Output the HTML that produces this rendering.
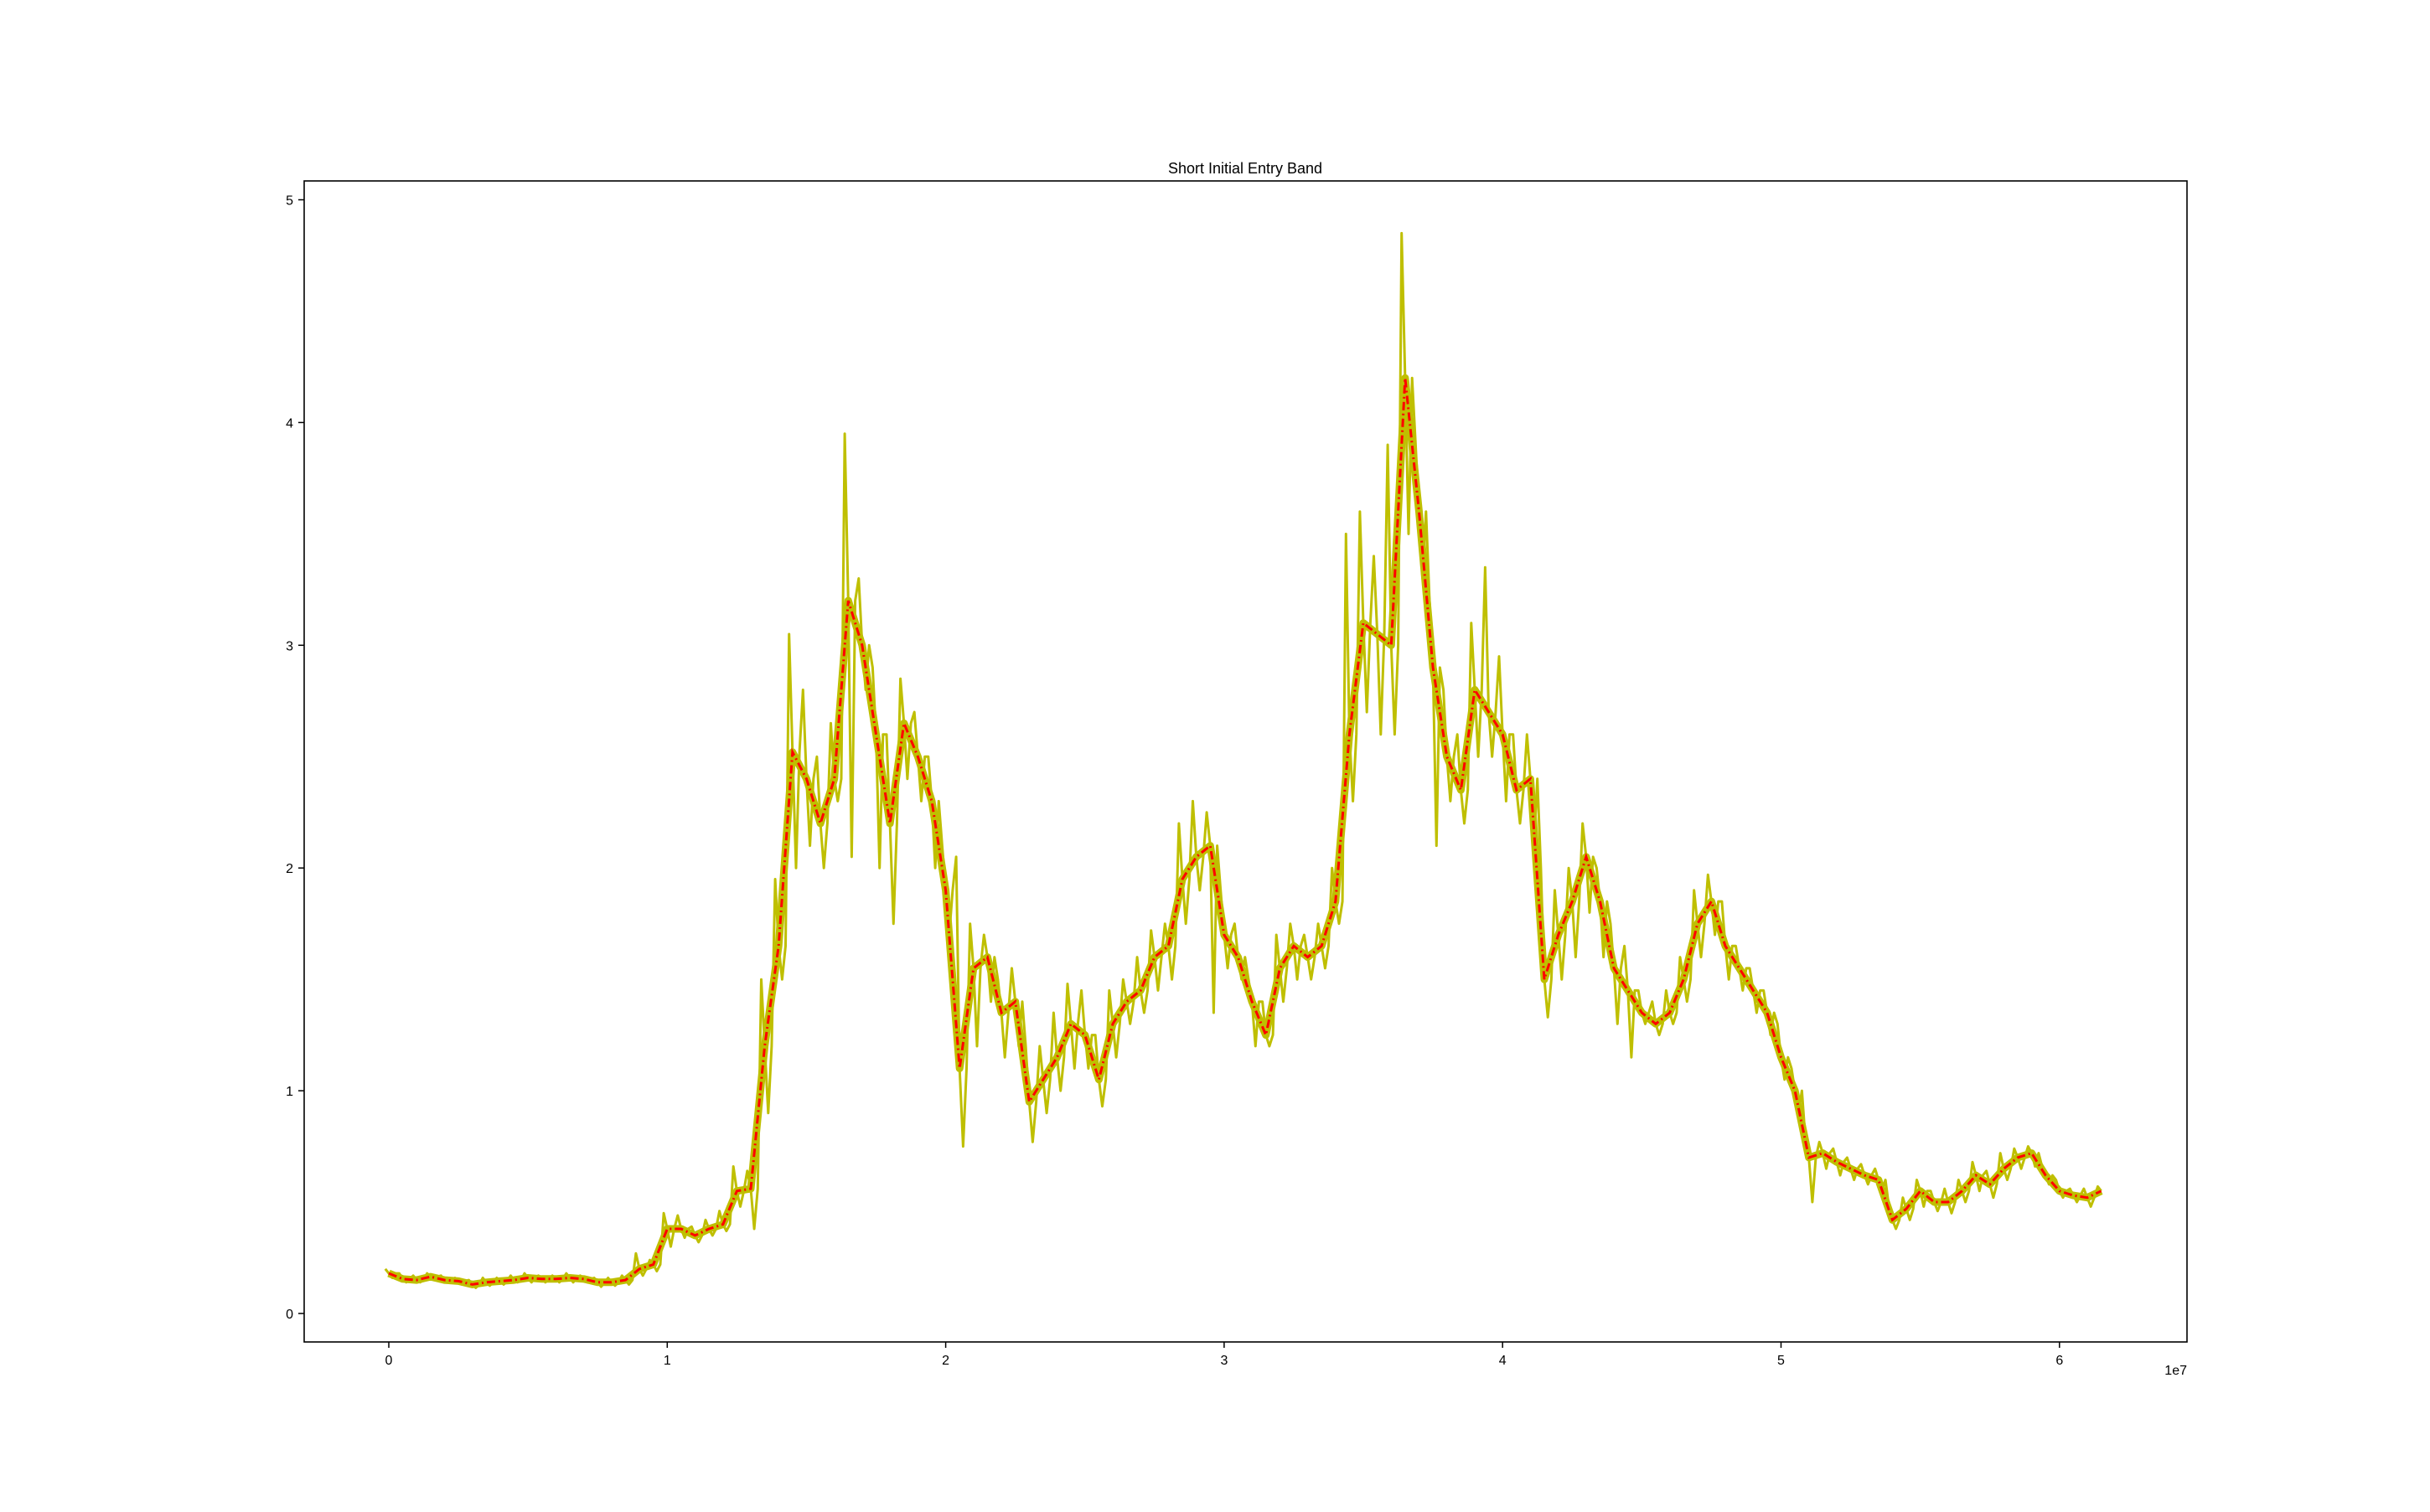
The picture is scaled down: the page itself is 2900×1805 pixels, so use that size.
<!DOCTYPE html>
<html><head><meta charset="utf-8"><style>
html,body{margin:0;padding:0;background:#fff;}
svg text{font-family:"Liberation Sans","DejaVu Sans",sans-serif;fill:#000;}
</style></head><body>
<svg id="chart" width="2900" height="1800" xmlns="http://www.w3.org/2000/svg">
<rect width="2900" height="1800" fill="#fff"/>
<text x="1486" y="207" font-size="18" text-anchor="middle">Short Initial Entry Band</text>
<g id="plot"></g>
<rect x="363" y="216" width="2247" height="1386" fill="none" stroke="#000" stroke-width="1.6"/>
<g id="axes"></g>
<text x="2610" y="1641" font-size="16" text-anchor="end">1e7</text>
</svg>
<script>
const xStart = 0, xStep = 0.05;
const redSeries = [
0.18,0.155,0.15,0.165,0.15,0.145,0.13,0.14,0.145,0.15,
0.16,0.155,0.155,0.16,0.155,0.14,0.14,0.15,0.2,0.22,
0.38,0.38,0.35,0.38,0.40,0.55,0.56,1.2,1.65,2.52,
2.4,2.2,2.4,3.2,3.0,2.6,2.2,2.65,2.5,2.3,
1.9,1.1,1.55,1.6,1.35,1.4,0.95,1.05,1.15,1.3,
1.25,1.05,1.3,1.4,1.45,1.6,1.65,1.95,2.05,2.1,
1.7,1.6,1.4,1.25,1.55,1.65,1.6,1.65,1.85,2.6,
3.1,3.05,3.0,4.2,3.6,2.9,2.5,2.35,2.8,2.7,
2.6,2.35,2.4,1.5,1.7,1.85,2.05,1.85,1.55,1.45,
1.35,1.3,1.35,1.5,1.75,1.85,1.65,1.55,1.45,1.35,
1.15,1.0,0.7,0.72,0.68,0.65,0.62,0.6,0.42,0.47,
0.55,0.5,0.5,0.55,0.62,0.58,0.65,0.7,0.72,0.62,
0.55,0.53,0.52,0.55];
const bandHigh = [
0.2,0.18,0.17,0.18,0.17,0.16,0.15,0.16,0.16,0.17,
0.18,0.17,0.17,0.18,0.17,0.16,0.16,0.17,0.27,0.24,
0.45,0.44,0.39,0.42,0.46,0.66,0.64,1.5,1.95,3.05,
2.8,2.5,2.65,3.95,3.3,2.9,2.6,2.85,2.7,2.5,
2.1,2.05,1.75,1.7,1.5,1.55,1.2,1.2,1.35,1.48,
1.45,1.25,1.45,1.5,1.6,1.72,1.75,2.2,2.3,2.25,
1.9,1.75,1.5,1.4,1.7,1.75,1.7,1.75,2.0,3.5,
3.6,3.4,3.9,4.85,3.9,3.2,2.8,2.6,3.1,3.35,
2.95,2.6,2.6,2.0,1.9,2.0,2.2,2.0,1.75,1.65,
1.45,1.4,1.45,1.6,1.9,1.97,1.85,1.65,1.55,1.45,
1.3,1.1,0.78,0.77,0.74,0.7,0.67,0.65,0.48,0.52,
0.6,0.55,0.56,0.6,0.68,0.64,0.72,0.74,0.75,0.66,
0.6,0.56,0.56,0.57];
const bandLow = [
0.16,0.14,0.14,0.15,0.14,0.13,0.115,0.125,0.13,0.14,
0.14,0.14,0.14,0.14,0.14,0.12,0.125,0.13,0.17,0.19,
0.3,0.34,0.32,0.35,0.37,0.48,0.38,0.9,1.5,2.0,
2.1,2.0,2.3,2.05,2.8,2.0,1.75,2.4,2.3,2.0,
1.7,0.75,1.2,1.4,1.15,1.2,0.77,0.9,1.0,1.1,
1.1,0.93,1.15,1.3,1.35,1.45,1.5,1.75,1.9,1.35,
1.55,1.5,1.2,1.2,1.4,1.5,1.5,1.55,1.75,2.3,
2.7,2.6,2.6,3.5,3.3,2.1,2.3,2.2,2.5,2.5,
2.3,2.2,2.1,1.33,1.5,1.6,1.8,1.6,1.3,1.15,
1.3,1.25,1.3,1.4,1.6,1.7,1.5,1.45,1.35,1.25,
1.05,0.9,0.5,0.65,0.62,0.6,0.58,0.55,0.38,0.42,
0.48,0.46,0.45,0.5,0.55,0.52,0.6,0.65,0.66,0.58,
0.52,0.5,0.48,0.52];
const xTicks = [0,1,2,3,4,5,6];
const xTickLabels = ["0","1","2","3","4","5","6"];
const yTicks = [0,1,2,3,4,5];
const yTickLabels = ["0","1","2","3","4","5"];

const NS = "http://www.w3.org/2000/svg";
function sx(v){ return 464 + v*332.3; }
function sy(v){ return 1568 - v*265.9; }
const plot = document.getElementById('plot');
const axes = document.getElementById('axes');

const core = document.createElementNS(NS,'polyline');
core.setAttribute('points', redSeries.map((v,i)=> sx(xStart+i*xStep).toFixed(1)+','+sy(v).toFixed(1)).join(' '));
core.setAttribute('fill','none');
core.setAttribute('stroke','#bfbf00');
core.setAttribute('stroke-width','9');
core.setAttribute('stroke-linejoin','round');


plot.appendChild(core);

let pts = [];
const n = redSeries.length;
for (let i=0;i<n;i++){
  const x = xStart + i*xStep;
  pts.push(sx(x-0.0125).toFixed(1)+','+sy(bandHigh[i]).toFixed(1));
  pts.push(sx(x).toFixed(1)+','+sy(redSeries[i]).toFixed(1));
  if (i < n-1) {
    pts.push(sx(x+0.0125).toFixed(1)+','+sy(bandLow[i]).toFixed(1));
    pts.push(sx(x+0.025).toFixed(1)+','+sy(redSeries[i]).toFixed(1));
  }
}
const band = document.createElementNS(NS,'polyline');
band.setAttribute('points', pts.join(' '));
band.setAttribute('fill','none');
band.setAttribute('stroke','#bfbf00');
band.setAttribute('stroke-width','3');
band.setAttribute('stroke-linejoin','round');


plot.appendChild(band);

const rpts = redSeries.map((v,i)=> sx(xStart+i*xStep).toFixed(1)+','+sy(v).toFixed(1));
const red = document.createElementNS(NS,'polyline');
red.setAttribute('points', rpts.join(' '));
red.setAttribute('fill','none');
red.setAttribute('stroke','#ff0000');
red.setAttribute('stroke-width','3');
red.setAttribute('stroke-dasharray','10 4 2 4');


plot.appendChild(red);

xTicks.forEach((t,i)=>{
  const l = document.createElementNS(NS,'line');
  l.setAttribute('x1',sx(t)); l.setAttribute('x2',sx(t));
  l.setAttribute('y1',1602); l.setAttribute('y2',1609);
  l.setAttribute('stroke','#000'); l.setAttribute('stroke-width','1.5');
  
  
  axes.appendChild(l);
  const tx = document.createElementNS(NS,'text');
  tx.setAttribute('x',sx(t)); tx.setAttribute('y',1629);
  tx.setAttribute('font-size','16'); tx.setAttribute('text-anchor','middle');
  tx.textContent = xTickLabels[i];
  
  
  axes.appendChild(tx);
});
yTicks.forEach((t,i)=>{
  const l = document.createElementNS(NS,'line');
  l.setAttribute('x1',356); l.setAttribute('x2',363);
  l.setAttribute('y1',sy(t)); l.setAttribute('y2',sy(t));
  l.setAttribute('stroke','#000'); l.setAttribute('stroke-width','1.5');
  
  
  axes.appendChild(l);
  const tx = document.createElementNS(NS,'text');
  tx.setAttribute('x',350); tx.setAttribute('y',sy(t)+6);
  tx.setAttribute('font-size','16'); tx.setAttribute('text-anchor','end');
  tx.textContent = yTickLabels[i];
  
  
  axes.appendChild(tx);
});
</script>
</body></html>
